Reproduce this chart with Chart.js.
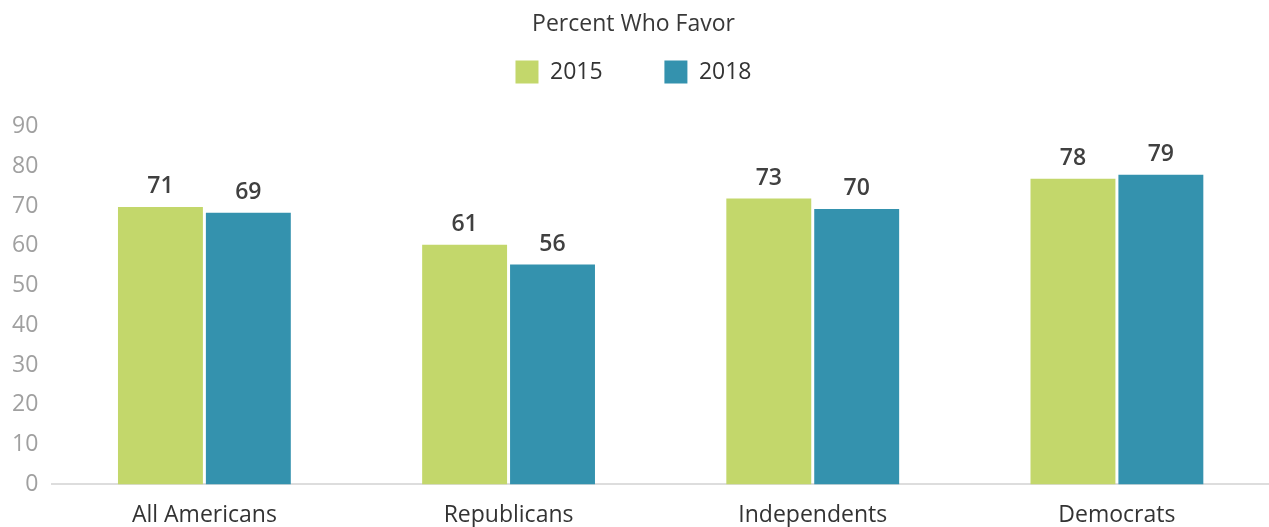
<!DOCTYPE html>
<html>
<head>
<meta charset="utf-8">
<script src="https://cdn.jsdelivr.net/npm/chart.js@4"></script>
<style>
  html, body { margin: 0; padding: 0; background: #fff; }
  #wrap { width: 1269px; height: 527px; }
</style>
</head>
<body>
<div id="wrap"><canvas id="barChart"></canvas></div>
<script>
const categories = ['All Americans', 'Republicans', 'Independents', 'Democrats'];
const seriesNames = ['2015', '2018'];
// bar heights as drawn in the picture
const values2015 = [69.8, 60.3, 71.9, 76.9];
const values2018 = [68.3, 55.3, 69.3, 77.9];
// numbers printed above the bars
const labels2015 = ['71', '61', '73', '78'];
const labels2018 = ['69', '56', '70', '79'];
const yTicks = [0, 10, 20, 30, 40, 50, 60, 70, 80, 90];

const green = 'rgb(195, 215, 107)';
const blue = 'rgb(52, 146, 174)';
const FONT = 'Open Sans';

// numbers above the bars
const barLabels = {
    id: 'barLabels',
    afterDatasetsDraw(chart) {
        const ctx = chart.ctx;
        const texts = [labels2015, labels2018];
        ctx.save();
        ctx.font = '600 23px "Open Sans"';
        ctx.fillStyle = '#404040';
        ctx.textAlign = 'center';
        ctx.textBaseline = 'alphabetic';
        chart.data.datasets.forEach((ds, i) => {
            chart.getDatasetMeta(i).data.forEach((bar, j) => {
                ctx.fillText(texts[i][j], bar.x, bar.y - 14);
            });
        });
        ctx.restore();
    }
};

// a bit more room between legend and plot
const legendSpace = {
    id: 'legendSpace',
    beforeInit(chart) {
        const origFit = chart.legend.fit;
        chart.legend.fit = function () {
            origFit.bind(chart.legend)();
            this.height += 33;
        };
    }
};

const ctx = document.getElementById('barChart').getContext('2d');
const chart = new Chart(ctx, {
    type: 'bar',
    data: {
        labels: categories,
        datasets: [
            { label: seriesNames[0], data: values2015, backgroundColor: green },
            { label: seriesNames[1], data: values2018, backgroundColor: blue }
        ]
    },
    options: {
        responsive: true,
        maintainAspectRatio: false,
        animation: false,
        layout: { padding: { left: -2, right: 0, top: 0, bottom: -19 } },
        datasets: {
            bar: { barPercentage: 0.966, categoryPercentage: 0.578 }
        },
        scales: {
            x: {
                grid: { display: false, drawTicks: false },
                border: { display: true, color: '#dddddd', width: 2 },
                ticks: {
                    color: '#333333',
                    font: { family: FONT, size: 23 },
                    padding: 17
                }
            },
            y: {
                min: 0,
                max: 90,
                afterBuildTicks(axis) {
                    axis.ticks = yTicks.map(v => ({ value: v }));
                },
                grid: { display: false, drawTicks: false },
                border: { display: false },
                ticks: {
                    color: '#a0a0a0',
                    font: { family: FONT, size: 23 },
                    padding: 14
                }
            }
        },
        plugins: {
            title: {
                display: true,
                text: 'Percent Who Favor',
                color: '#383838',
                font: { family: FONT, size: 23, weight: 'normal' },
                padding: { top: 11, bottom: 2 }
            },
            legend: {
                display: true,
                position: 'top',
                labels: {
                    color: '#333333',
                    font: { family: FONT, size: 23 },
                    boxWidth: 23,
                    boxHeight: 23,
                    padding: 20,
                    generateLabels(chart) {
                        const items = Chart.defaults.plugins.legend.labels.generateLabels(chart);
                        // widen the gap after the first entry
                        items[0].text = items[0].text + '       ';
                        items.forEach(it => { it.lineWidth = 0; });
                        return items;
                    }
                }
            },
            tooltip: { enabled: false }
        }
    },
    plugins: [barLabels, legendSpace]
});
</script>
</body>
</html>
